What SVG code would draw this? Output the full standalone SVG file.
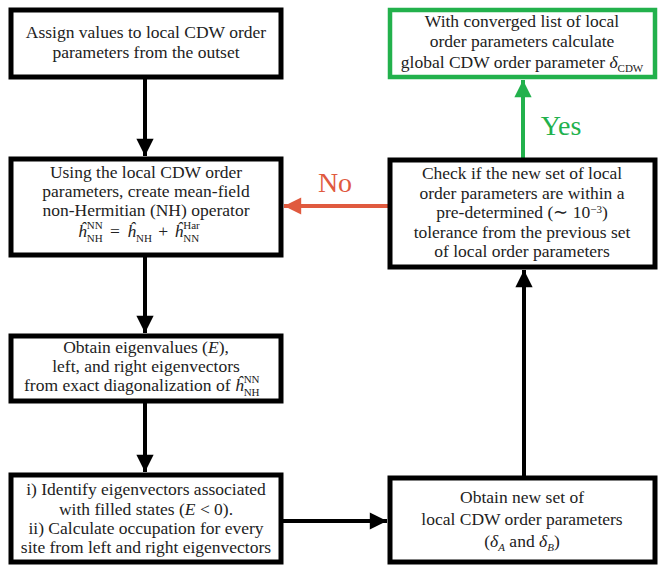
<svg xmlns="http://www.w3.org/2000/svg" width="658" height="565" viewBox="0 0 658 565">
<style>
.box{fill:#fff;stroke:#000;stroke-width:5}
.gbox{fill:#fff;stroke:#22b14c;stroke-width:4.5}
text{font-family:'Liberation Serif','Times New Roman',serif;font-size:17.5px;fill:#222}
.c{text-anchor:middle}
.i{font-style:italic}
.s{font-size:11px}
.conn{stroke:#000;stroke-width:4;fill:none}
</style>
<defs>
<marker id="ab" viewBox="0 0 10 10" refX="10" refY="5" markerWidth="6.2" markerHeight="4.3" markerUnits="strokeWidth" orient="auto"><path d="M0,0L10,5L0,10z" fill="#000"/></marker>
<marker id="ag" viewBox="0 0 10 10" refX="10" refY="5" markerWidth="6.2" markerHeight="4.3" markerUnits="strokeWidth" orient="auto"><path d="M0,0L10,5L0,10z" fill="#22b14c"/></marker>
<marker id="ar" viewBox="0 0 10 10" refX="10" refY="5" markerWidth="6.2" markerHeight="4.3" markerUnits="strokeWidth" orient="auto"><path d="M0,0L10,5L0,10z" fill="#e05a3f"/></marker>
</defs>
<g id="connectors">
<line class="conn" x1="145" y1="78" x2="145" y2="156" marker-end="url(#ab)"/>
<line class="conn" x1="145" y1="256" x2="145" y2="333" marker-end="url(#ab)"/>
<line class="conn" x1="145" y1="402" x2="145" y2="472" marker-end="url(#ab)"/>
<line class="conn" x1="282" y1="521" x2="387" y2="521" marker-end="url(#ab)"/>
<line class="conn" x1="524" y1="476" x2="524" y2="270" marker-end="url(#ab)"/>
<line class="conn" x1="523" y1="158" x2="523" y2="80" style="stroke:#22b14c" marker-end="url(#ag)"/>
<line class="conn" x1="388" y1="206" x2="284" y2="206" style="stroke:#e05a3f" marker-end="url(#ar)"/>
<text x="335" y="192" class="c" style="font-size:28px;fill:#e05a3f">No</text>
<text x="561" y="135" class="c" style="font-size:28px;fill:#22b14c">Yes</text>
</g>
<g id="n1">
<rect class="box" x="11" y="10" width="270" height="67"/>
<text class="c" x="146" y="38">Assign values to local CDW order</text>
<text class="c" x="146" y="58">parameters from the outset</text>
</g>
<g id="n2">
<rect class="box" x="11" y="159" width="270" height="96"/>
<text class="c" x="146" y="178">Using the local CDW order</text>
<text class="c" x="146" y="197">parameters, create mean-field</text>
<text class="c" x="146" y="216">non-Hermitian (NH) operator</text>
<text x="78" y="237"><tspan class="i">ĥ</tspan><tspan class="s" dy="-8">NN</tspan><tspan class="s" dx="-15.9" dy="13">NH</tspan><tspan dy="-5" dx="3"> = </tspan><tspan class="i" dx="3">ĥ</tspan><tspan class="s" dy="5">NH</tspan><tspan dy="-5" dx="2"> + </tspan><tspan class="i" dx="2">ĥ</tspan><tspan class="s" dy="-8">Har</tspan><tspan class="s" dx="-16.5" dy="13">NN</tspan></text>
</g>
<g id="n3">
<rect class="box" x="11" y="336" width="270" height="65"/>
<text class="c" x="146" y="353">Obtain eigenvalues (<tspan class="i">E</tspan>),</text>
<text class="c" x="146" y="372">left, and right eigenvectors</text>
<text x="24" y="391">from exact diagonalization of <tspan class="i">ĥ</tspan><tspan class="s" dy="-8">NN</tspan><tspan class="s" dx="-15.9" dy="13">NH</tspan></text>
</g>
<g id="n4">
<rect class="box" x="11" y="475" width="270" height="87"/>
<text class="c" x="146" y="495">i) Identify eigenvectors associated</text>
<text class="c" x="146" y="515">with filled states (<tspan class="i">E</tspan> &lt; 0).</text>
<text class="c" x="146" y="534">ii) Calculate occupation for every</text>
<text class="c" x="146" y="553">site from left and right eigenvectors</text>
</g>
<g id="n5">
<rect class="box" x="390" y="478" width="265" height="84"/>
<text class="c" x="522" y="503">Obtain new set of</text>
<text class="c" x="522" y="525">local CDW order parameters</text>
<text class="c" x="522" y="547">(<tspan class="i">δ</tspan><tspan class="s i" dy="4">A</tspan><tspan dy="-4"> and </tspan><tspan class="i">δ</tspan><tspan class="s i" dy="4">B</tspan><tspan dy="-4">)</tspan></text>
</g>
<g id="n6">
<rect class="box" x="390" y="160" width="265" height="107"/>
<text class="c" x="522" y="179">Check if the new set of local</text>
<text class="c" x="522" y="198.5">order parameters are within a</text>
<text class="c" x="522" y="218">pre-determined (∼ 10<tspan class="s" dy="-5.5">−3</tspan><tspan dy="5.5">)</tspan></text>
<text class="c" x="522" y="237.5">tolerance from the previous set</text>
<text class="c" x="522" y="257">of local order parameters</text>
</g>
<g id="n7">
<rect class="gbox" x="390" y="10" width="265" height="67"/>
<text class="c" x="522" y="27">With converged list of local</text>
<text class="c" x="522" y="47">order parameters calculate</text>
<text class="c" x="522" y="68">global CDW order parameter <tspan class="i">δ</tspan><tspan class="s" dy="4">CDW</tspan></text>
</g>
</svg>
